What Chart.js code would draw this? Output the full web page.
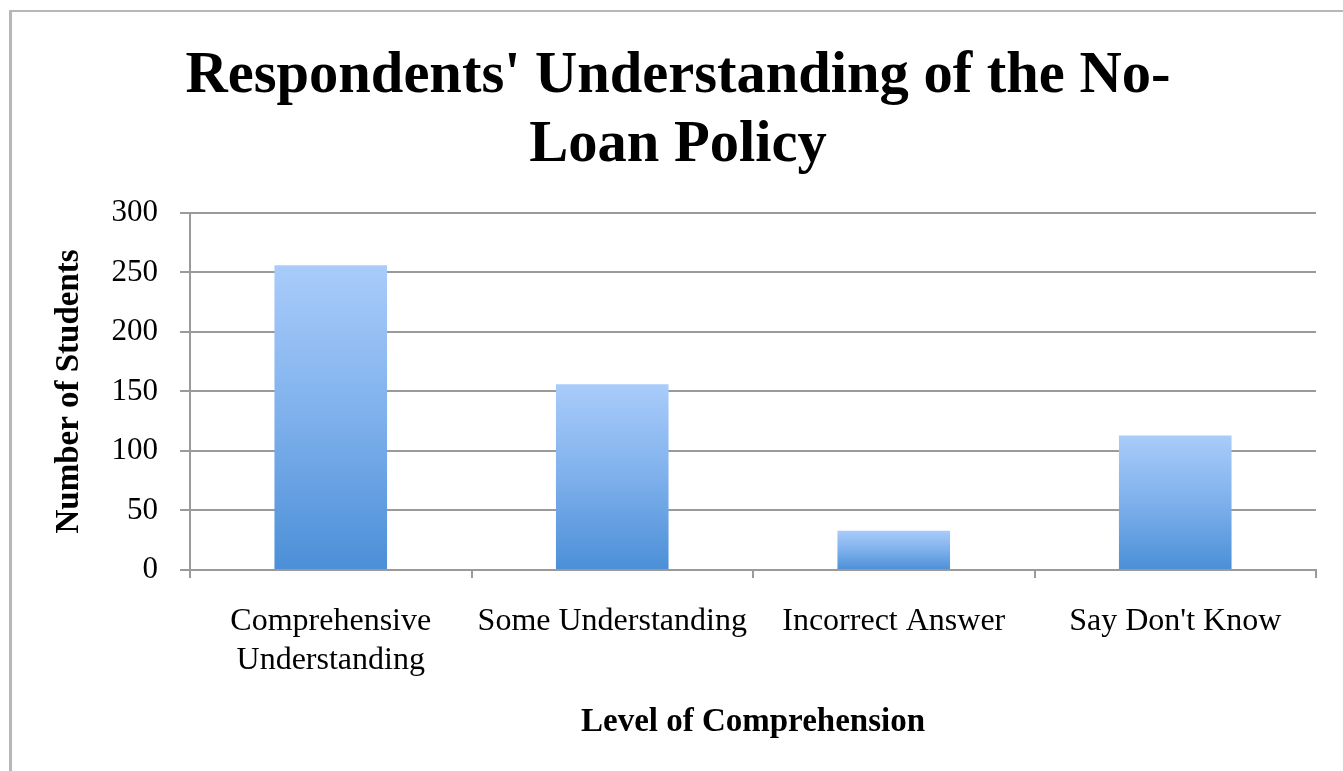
<!DOCTYPE html>
<html>
<head>
<meta charset="utf-8">
<title>Respondents' Understanding of the No-Loan Policy</title>
<script src="https://cdn.jsdelivr.net/npm/chart.js@4"></script>
<style>
  html, body { margin: 0; padding: 0; background: #ffffff; overflow: hidden; }
  #wrap { position: relative; width: 1343px; height: 771px; }
  #frame {
    position: absolute; left: 9px; top: 10px; width: 1400px; height: 800px;
    border-left: 3px solid #b7b7b7; border-top: 2px solid #b7b7b7;
    pointer-events: none;
  }
  canvas { position: absolute; left: 0; top: 0; }
</style>
</head>
<body>
<div id="wrap">
  <div id="frame"></div>
  <canvas id="chart" width="1343" height="771"></canvas>
</div>
<script>
// Survey responses by level of comprehension
const categories = [['Comprehensive', 'Understanding'], 'Some Understanding', 'Incorrect Answer', "Say Don't Know"];
const students = [256, 156, 33, 113];
const yTicks = [0, 50, 100, 150, 200, 250, 300];

const chartTitle = ["Respondents' Understanding of the No-", 'Loan Policy'];
const xTitle = 'Level of Comprehension';
const yTitle = 'Number of Students';

const serif = "'Liberation Serif', 'Times New Roman', serif";
const gridGray = '#9a9a9a';

// Each bar fades from light blue at its top to a deeper blue at the baseline
function barGradient(ctx) {
  const chart = ctx.chart;
  const y = chart.scales && chart.scales.y;
  if (!chart.chartArea || !y || ctx.type !== 'data') return '#7badee';
  const top = y.getPixelForValue(ctx.raw);
  const base = y.getPixelForValue(0);
  const g = chart.ctx.createLinearGradient(0, top, 0, base);
  g.addColorStop(0, '#a9ccfa');
  g.addColorStop(0.5, '#7eb0ec');
  g.addColorStop(1, '#4b8fd7');
  return g;
}

new Chart(document.getElementById('chart'), {
  type: 'bar',
  data: {
    labels: categories,
    datasets: [{
      label: yTitle,
      data: students,
      backgroundColor: barGradient,
      borderWidth: 0,
      categoryPercentage: 1.0,
      barPercentage: 0.4
    }]
  },
  options: {
    responsive: false,
    devicePixelRatio: 1,
    animation: false,
    layout: { padding: { left: 40, right: 27, top: 0, bottom: 0 } },
    plugins: {
      legend: { display: false },
      tooltip: { enabled: false },
      title: {
        display: true,
        text: chartTitle,
        color: '#000000',
        font: { family: serif, size: 58.5, weight: 'bold', lineHeight: 1.17 },
        padding: { top: 43, bottom: 33 }
      }
    },
    scales: {
      x: {
        grid: {
          display: true,
          drawOnChartArea: false,
          drawTicks: true,
          tickLength: 8,
          offset: true,
          color: gridGray,
          lineWidth: 2
        },
        border: { display: true, color: gridGray, width: 2 },
        ticks: {
          color: '#000000',
          padding: 25,
          maxRotation: 0,
          autoSkip: false,
          font: { family: serif, size: 32, lineHeight: 1.19 }
        },
        title: {
          display: true,
          text: xTitle,
          color: '#000000',
          font: { family: serif, size: 33, weight: 'bold', lineHeight: 1.2 },
          padding: { top: 0, bottom: 29 }
        },
        afterFit: (scale) => { scale.height = 201; }
      },
      y: {
        min: 0,
        max: 300,
        afterBuildTicks: (scale) => { scale.ticks = yTicks.map(v => ({ value: v })); },
        grid: {
          color: gridGray,
          lineWidth: 2,
          drawTicks: true,
          tickLength: 10
        },
        border: { display: true, color: gridGray, width: 2 },
        ticks: {
          color: '#000000',
          padding: 22,
          font: { family: serif, size: 31 }
        },
        title: {
          display: true,
          text: yTitle,
          color: '#000000',
          font: { family: serif, size: 33, weight: 'bold', lineHeight: 1.2 },
          padding: { top: 10, bottom: 0 }
        },
        afterFit: (scale) => { scale.width = 150; }
      }
    }
  }
});
</script>
</body>
</html>
